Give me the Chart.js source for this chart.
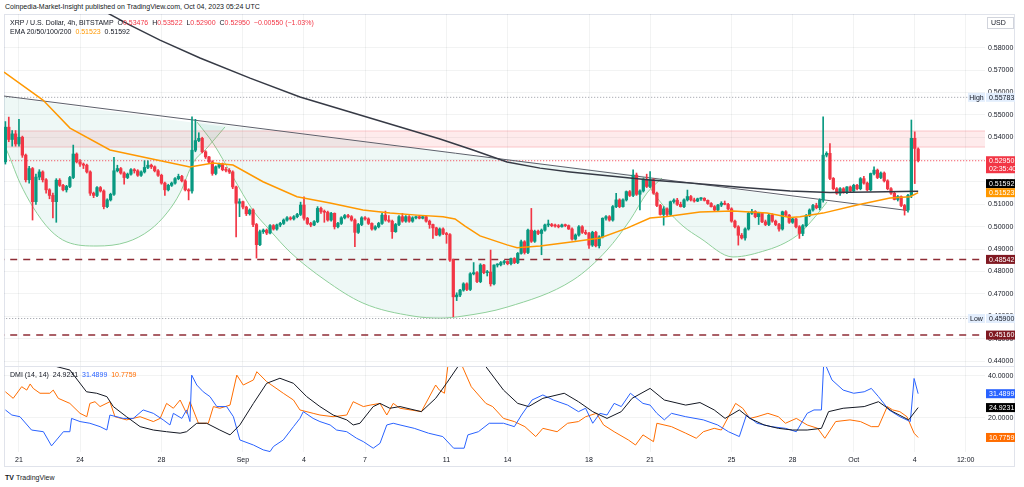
<!DOCTYPE html>
<html lang="en">
<head>
<meta charset="UTF-8">
<title>XRP / U.S. Dollar, 4h, BITSTAMP</title>
<script src="https://cdn.jsdelivr.net/npm/chart.js"></script>
<style>
  body { margin: 0; width: 1024px; height: 487px; background: #fff; position: relative; overflow: hidden;
         font-family: "Liberation Sans", Arial, sans-serif; color: #131722; }
  .frame { position: absolute; left: 4px; top: 14px; width: 1011px; height: 453px; border: 1px solid #e0e3eb; box-sizing: border-box; }
  .sep { position: absolute; left: 4px; top: 366px; width: 1011px; height: 1px; background: #e0e3eb; }
  canvas { position: absolute; left: 4px; }
  #mainChart { top: 14px; }
  #dmiChart { top: 366px; }
  .txt { position: absolute; font-size: 7px; line-height: 9px; white-space: nowrap; }
  .pub { left: 5px; top: 2px; }
  .leg1 { left: 10px; top: 18px; }
  .leg2 { left: 10px; top: 27px; }
  .dmi { left: 10px; top: 370px; }
  .logo { left: 5px; top: 473px; }
  .logo b { font-weight: 900; margin-right: 2px; }
  .red { color: #f23645; } .orange { color: #ff9800; } .blue { color: #2962ff; } .dorange { color: #ff6d00; }
</style>
</head>
<body>
<div class="frame"></div>
<canvas id="mainChart" width="1011" height="352"></canvas>
<canvas id="dmiChart" width="1011" height="101"></canvas>
<div class="sep"></div>
<div class="txt pub">Coinpedia-Market-Insight published on TradingView.com, Oct 04, 2023 05:24 UTC</div>
<div class="txt leg1" id="leg1"></div>
<div class="txt leg2" id="leg2"></div>
<div class="txt dmi" id="legDmi"></div>
<div class="txt logo"><b>TV</b>TradingView</div>
<script>
// 4h candles, index 0 = Aug 20 08:00
const opens = [
.5290,.5445,.5390,.5415,.5370,.5400,.5320,.5210,.5260,.5112,
.5222,.5245,.5210,.5165,.5140,.5112,.5208,.5185,.5165,.5180,
.5220,.5325,.5290,.5280,.5275,.5245,.5150,.5140,.5175,.5160,
.5090,.5120,.5145,.5250,.5260,.5240,.5220,.5235,.5255,.5250,
.5230,.5245,.5265,.5275,.5268,.5250,.5230,.5195,.5165,.5185,
.5195,.5215,.5225,.5205,.5165,.5160,.5342,.5385,.5395,.5335,
.5312,.5290,.5238,.5268,.5280,.5255,.5252,.5245,.5178,.5105,
.5112,.5088,.5058,.5075,.5010,.4920,.4978,.4985,.4972,.5005,
.4990,.5008,.5015,.5030,.5040,.5035,.5045,.5055,.5097,.5038,
.5015,.5008,.5023,.5082,.5068,.5065,.5030,.5060,.5000,.5015,
.5040,.5050,.5045,.5030,.4975,.5010,.5040,.5035,.5015,.4990,
.5000,.5015,.5052,.5030,.5025,.4978,.5010,.5045,.5025,.5045,
.5025,.5040,.5045,.5038,.5045,.5025,.5010,.4995,.4963,.4990,
.4970,.4965,.4851,.4687,.4695,.4717,.4745,.4720,.4790,.4795,
.4755,.4829,.4795,.4798,.4745,.4829,.4830,.4840,.4845,.4835,
.4858,.4840,.4881,.4933,.4885,.4985,.4935,.4980,.4970,.4985,
.5008,.5010,.5005,.5003,.5000,.5008,.5005,.4990,.4945,.4963,
.5000,.4975,.4970,.4918,.4975,.4915,.4955,.5038,.5045,.5030,
.5090,.5120,.5090,.5120,.5157,.5140,.5231,.5145,.5160,.5210,
.5180,.5210,.5150,.5095,.5055,.5080,.5055,.5112,.5119,.5100,
.5090,.5120,.5135,.5120,.5115,.5125,.5127,.5118,.5104,.5090,
.5075,.5097,.5105,.5100,.5080,.5025,.5000,.4962,.4950,.4990,
.5060,.5068,.5045,.5060,.5022,.5010,.5052,.5025,.5010,.4990,
.5067,.5052,.5020,.5035,.5000,.4970,.5005,.5050,.5075,.5095,
.5085,.5119,.5320,.5328,.5216,.5170,.5150,.5170,.5155,.5178,
.5160,.5185,.5170,.5215,.5195,.5165,.5238,.5253,.5220,.5240,
.5205,.5170,.5150,.5122,.5135,.5095,.5075,.5140,.5395,.53476
];
const highs = [
.5470,.5490,.5430,.5430,.5480,.5405,.5325,.5270,.5265,.5235,
.5255,.5250,.5215,.5170,.5150,.5215,.5215,.5190,.5185,.5225,
.5365,.5330,.5300,.5285,.5280,.5250,.5155,.5180,.5180,.5165,
.5125,.5150,.5310,.5275,.5265,.5245,.5240,.5260,.5260,.5255,
.5250,.5295,.5295,.5280,.5272,.5255,.5235,.5200,.5190,.5200,
.5220,.5235,.5230,.5210,.5170,.5491,.5480,.5420,.5400,.5340,
.5315,.5295,.5272,.5285,.5285,.5265,.5260,.5250,.5182,.5125,
.5115,.5092,.5080,.5080,.5015,.4985,.4990,.4990,.5010,.5010,
.5012,.5020,.5035,.5045,.5045,.5050,.5060,.5110,.5134,.5042,
.5020,.5028,.5090,.5088,.5075,.5070,.5065,.5062,.5020,.5045,
.5055,.5055,.5050,.5035,.5015,.5045,.5045,.5040,.5018,.5005,
.5020,.5060,.5070,.5050,.5030,.5015,.5050,.5060,.5050,.5050,
.5045,.5048,.5050,.5048,.5048,.5030,.5012,.4998,.4995,.4995,
.4975,.4970,.4855,.4705,.4720,.4750,.4750,.4795,.4840,.4800,
.4835,.4832,.4805,.4896,.4830,.4835,.4845,.4850,.4848,.4860,
.4862,.4885,.4941,.4938,.4990,.5082,.4985,.4985,.4990,.5012,
.5030,.5015,.5012,.5010,.5012,.5012,.5008,.4995,.4968,.5005,
.5005,.4985,.4975,.4980,.4980,.4960,.5040,.5050,.5050,.5095,
.5149,.5125,.5125,.5160,.5162,.5254,.5240,.5165,.5215,.5235,
.5246,.5215,.5155,.5100,.5090,.5085,.5115,.5125,.5127,.5110,
.5125,.5164,.5140,.5128,.5128,.5130,.5130,.5120,.5108,.5095,
.5100,.5112,.5115,.5105,.5085,.5030,.5005,.4970,.4995,.5065,
.5078,.5072,.5065,.5062,.5030,.5060,.5058,.5030,.5015,.5070,
.5072,.5055,.5040,.5038,.5005,.5010,.5055,.5080,.5100,.5105,
.5125,.5491,.5335,.5372,.5220,.5175,.5175,.5175,.5180,.5182,
.5190,.5190,.5220,.5225,.5200,.5240,.5268,.5258,.5245,.5245,
.5210,.5175,.5155,.5140,.5138,.5100,.5145,.5477,.5424,.53522
];
const lows = [
.5280,.5380,.5360,.5360,.5360,.5310,.5200,.5195,.5030,.5100,
.5210,.5200,.5150,.5125,.5040,.5020,.5180,.5160,.5155,.5175,
.5215,.5285,.5270,.5260,.5240,.5140,.5130,.5135,.5155,.5080,
.5085,.5115,.5140,.5245,.5235,.5190,.5215,.5230,.5240,.5225,
.5225,.5240,.5260,.5260,.5245,.5225,.5190,.5140,.5160,.5180,
.5190,.5210,.5200,.5160,.5120,.5150,.5335,.5380,.5330,.5305,
.5285,.5230,.5232,.5262,.5250,.5245,.5238,.5170,.4955,.5045,
.5080,.5050,.5052,.5000,.4860,.4915,.4970,.4965,.4968,.4985,
.4985,.5000,.5010,.5025,.5030,.5030,.5040,.5050,.5030,.5010,
.5000,.5005,.5018,.5060,.5020,.5025,.5025,.4990,.4995,.5010,
.5035,.5040,.5025,.4911,.4970,.5005,.5030,.5010,.4985,.4985,
.4995,.5010,.5025,.5020,.4948,.4975,.5005,.5020,.5020,.5020,
.5020,.5035,.5035,.5035,.5020,.4993,.4948,.4960,.4958,.4965,
.4926,.4845,.4598,.4670,.4688,.4712,.4715,.4715,.4785,.4750,
.4750,.4790,.4780,.4735,.4740,.4820,.4825,.4832,.4830,.4830,
.4835,.4835,.4878,.4878,.4880,.4930,.4930,.4965,.4875,.4980,
.5000,.5000,.4998,.4995,.4998,.5000,.4988,.4940,.4940,.4958,
.4970,.4965,.4903,.4912,.4910,.4905,.4950,.5030,.5025,.5025,
.5085,.5085,.5088,.5115,.5135,.5135,.5140,.5075,.5155,.5175,
.5175,.5145,.5090,.5052,.5007,.5050,.5050,.5105,.5095,.5088,
.5085,.5115,.5115,.5110,.5112,.5118,.5115,.5100,.5088,.5072,
.5070,.5090,.5098,.5075,.5020,.4995,.4918,.4945,.4940,.4985,
.5055,.5040,.5010,.5018,.5005,.5005,.5020,.5005,.4980,.4985,
.5045,.5015,.5015,.4995,.4948,.4960,.5000,.5045,.5070,.5080,
.5075,.5110,.5312,.5210,.5165,.5145,.5140,.5150,.5148,.5155,
.5155,.5165,.5165,.5190,.5160,.5160,.5232,.5215,.5215,.5200,
.5165,.5145,.5120,.5115,.5090,.5052,.5065,.5130,.5193,.52900
];
const closes = [
.5445,.5390,.5415,.5370,.5400,.5320,.5210,.5260,.5112,.5222,
.5245,.5210,.5165,.5140,.5112,.5208,.5185,.5165,.5180,.5220,
.5325,.5290,.5280,.5275,.5245,.5150,.5140,.5175,.5160,.5090,
.5120,.5145,.5250,.5260,.5240,.5220,.5235,.5255,.5250,.5230,
.5245,.5265,.5275,.5268,.5250,.5230,.5195,.5165,.5185,.5195,
.5215,.5225,.5205,.5165,.5160,.5342,.5385,.5395,.5335,.5312,
.5290,.5238,.5268,.5280,.5255,.5252,.5245,.5178,.5105,.5112,
.5088,.5058,.5075,.5010,.4920,.4978,.4985,.4972,.5005,.4990,
.5008,.5015,.5030,.5040,.5035,.5045,.5055,.5097,.5038,.5015,
.5008,.5023,.5082,.5068,.5065,.5030,.5060,.5000,.5015,.5040,
.5050,.5045,.5030,.4975,.5010,.5040,.5035,.5015,.4990,.5000,
.5015,.5052,.5030,.5025,.4978,.5010,.5045,.5025,.5045,.5025,
.5040,.5045,.5038,.5045,.5025,.5010,.4995,.4963,.4990,.4970,
.4965,.4851,.4687,.4695,.4717,.4745,.4720,.4790,.4795,.4755,
.4829,.4795,.4798,.4745,.4829,.4830,.4840,.4845,.4835,.4858,
.4840,.4881,.4933,.4885,.4985,.4935,.4980,.4970,.4985,.5008,
.5010,.5005,.5003,.5000,.5008,.5005,.4990,.4945,.4963,.5000,
.4975,.4970,.4918,.4975,.4915,.4955,.5038,.5045,.5030,.5090,
.5120,.5090,.5120,.5157,.5140,.5231,.5145,.5160,.5210,.5180,
.5210,.5150,.5095,.5055,.5080,.5055,.5112,.5119,.5100,.5090,
.5120,.5135,.5120,.5115,.5125,.5127,.5118,.5104,.5090,.5075,
.5097,.5105,.5100,.5080,.5025,.5000,.4962,.4950,.4990,.5060,
.5068,.5045,.5060,.5022,.5010,.5052,.5025,.5010,.4990,.5067,
.5052,.5020,.5035,.5000,.4970,.5005,.5050,.5075,.5095,.5085,
.5119,.5320,.5328,.5216,.5170,.5150,.5170,.5155,.5178,.5160,
.5185,.5170,.5215,.5195,.5165,.5238,.5253,.5220,.5240,.5205,
.5170,.5150,.5122,.5135,.5095,.5075,.5140,.5395,.5350,.52950
];

// [candle index, value]
const ema50Pts = [[-0.41,.5691],[11.08,.5566],[19.04,.5441],[30.83,.5343],[44.68,.5298],[54.4,.5267],[61.18,.5285],
  [67.08,.5276],[75.92,.5201],[85.94,.5134],[95.67,.5106],[105.39,.5075],[113.35,.5061],[121.31,.5052],[128.97,.5045],
  [132.51,.5035],[135.46,.5003],[139.88,.4959],[147.84,.4919],[150.79,.4906],[157.57,.4914],[167.29,.4933],[175.25,.4950],
  [183.21,.4994],[189.99,.5039],[195,.5046],[204.71,.5066],[214.44,.5070],[224.46,.5061],[231.24,.5041],[234.19,.5045],
  [240.97,.5061],[250.99,.5097],[260.71,.5128],[266.61,.5134],[269,.51523]];
const ema200Pts = [[27.88,.5973],[36.72,.5901],[45.56,.5834],[57.35,.5754],[72.09,.5664],[86.82,.5580],[101.56,.5513],
  [116.3,.5446],[128.09,.5392],[137.81,.5343],[147.84,.5289],[157.57,.5262],[166.41,.5245],[175.25,.5231],[189.99,.5209],
  [201.78,.5195],[216.51,.5177],[231.24,.5160],[243.03,.5153],[254.82,.5155],[269,.51592]];
const trendPts = [[-0.41,.5584],[265.72,.5073]];
const cupSmall = [[-10.73,.5602],[-5.13,.5455],[-0.12,.5357],[4.3,.5196],[8.13,.5088],[13.14,.4986],[18.15,.4932],
  [27,.4914],[35.84,.4932],[42.62,.4986],[47.63,.5062],[51.46,.5151],[55.29,.5285],[59.42,.5352],[64.72,.5446]];
const cupBig = [[56.47,.5468],[61.18,.5374],[67.08,.5222],[72.97,.5073],[77.98,.4984],[83.88,.4887],[94.2,.4762],
  [105.39,.4659],[120.13,.4601],[128.09,.4592],[134.87,.4601],[147.84,.4641],[167.29,.4762],[177.31,.4896],
  [184.09,.5030],[189.1,.5151],[193.52,.5218]];
const cupRight = [[187.92,.5222],[191.45,.5142],[195,.5075],[199.7,.5003],[204.71,.4950],[214.44,.4865],
  [224.46,.4896],[229.77,.4928],[234.19,.4972],[238.61,.5044],[242.15,.5111]];
const zoneBand = [.5356, .5428];
const supportLevels = [.48542, .45160];
const hiLoValues = [.55783, .45900];
const hiLoNames = ['High', 'Low'];
const countdown = '02:35:40';

const adxPts = [[0,55],[10,50],[15.1,44.3],[19,42.7],[23.9,32.4],[26.9,31.7],[29.9,30.1],[31.8,25.4],[35.7,20.6],
  [39.7,15.9],[43.6,14.3],[47.5,13.5],[51.5,12.8],[53.4,13.5],[56.4,17.5],[59.3,17.5],[63.2,14.3],[66.2,12],[69.1,16.7],
  [73.1,26.9],[77,36.4],[80.9,38.8],[84.9,36.4],[88.8,30.1],[92.7,25.4],[96.6,21.4],[100.6,19.1],[102.5,16.7],
  [104.5,17.5],[108.4,25.4],[110.4,26.9],[113.3,24.6],[116.3,25.4],[122.6,23],[126.8,29.3],[130,36.4],[133.7,45.1],
  [137.5,48],[141.6,44.3],[146.8,33.2],[151,26.9],[154.2,25.4],[158.4,29.3],[164.7,31.7],[168.9,27.7],[173.1,23],
  [177.3,19.8],[181.5,23],[184.7,29.3],[190,34],[194.2,28.5],[200.5,26.1],[204.7,27.3],[208.9,23.8],[212.1,19.8],
  [216.3,23.8],[219.4,19.8],[223.6,16.7],[227.8,15.1],[232,14.3],[236.3,14.3],[240.5,15.1],[242.6,23],[246.9,24.6],
  [253.1,25.4],[257.3,27.7],[261.5,23],[266.2,19.1],[269,24.9231]];
const plusDiPts = [[0,23.8],[1.9,21.4],[4.3,20.6],[7.7,14.3],[11.2,13.5],[13.6,6.8],[17.1,13.5],[19,13.5],[19.5,19.8],
  [22,18.3],[24.9,17.5],[27.9,15.9],[29.9,14.3],[30.8,21.4],[34.7,19.8],[37.7,19.8],[40.6,23.8],[43.6,22.2],[46.5,19.1],
  [48.5,16.7],[49.5,22.2],[52,19.8],[53.4,23.8],[54.4,18.3],[54.9,40.3],[56.4,35.6],[58.3,32.4],[60.3,30.1],[62.3,25.4],
  [65.2,25.4],[67.2,20.6],[69.1,9.6],[73.1,7.2],[76,4.9],[78,4.1],[79,6.5],[81.9,9.6],[84.9,15.9],[86.8,19.8],[87.8,23],
  [90.7,19.8],[92.7,18.3],[95.7,16.7],[97.6,14.3],[100.6,13.5],[103.5,10.4],[105.5,8.8],[108.4,5.7],[110.4,8],
  [112.4,16.7],[114.3,17.5],[116.3,16.7],[120.5,15.1],[124.7,12.8],[128.9,11.2],[132.1,5.7],[135.2,5.7],[136.3,12],
  [139.4,13.5],[142.6,17.5],[146.8,17.5],[150,15.9],[152.1,21.4],[155.2,28.5],[158.4,30.9],[161.5,28.5],[165.7,26.1],
  [168.9,23],[171,24.6],[173.1,17.5],[175.2,22.2],[177.3,21.4],[179.4,26.9],[181.5,25.4],[184.2,31.7],[187.9,26.9],
  [190,26.1],[192,22.2],[194.2,19.1],[196.3,22.2],[200.5,20.6],[205.7,19.1],[209.9,16.7],[213.1,13.5],[216.3,11.2],
  [218.4,21.4],[221.5,17.5],[225.7,15.9],[229.9,15.1],[233.1,13.5],[236.3,22.2],[238.3,23.8],[240.5,23.8],[241.2,47],
  [243.6,38],[246.9,33.2],[250,31.7],[253.1,32.4],[255.2,34],[257.3,30.1],[260.4,23.8],[263.6,20.6],[266.7,18.3],
  [267.8,38.7],[269,31.4899]];
const minusDiPts = [[0,32.4],[2.3,29.3],[4.8,34.8],[6.3,33.2],[7.3,36.1],[8.2,34],[10.2,31.7],[13.1,31.7],[14.1,33.2],
  [15.6,29.3],[19,26.9],[22,22.2],[24,20.6],[24.9,26.9],[26.4,27.7],[27.9,25.4],[30.8,27.7],[32.3,20.6],[35.7,19.1],
  [39.7,20.6],[43.6,18.3],[45.6,19.8],[47.5,26.9],[49.5,24.6],[51.5,28.5],[53.4,22.2],[54.4,27.7],[56.9,17.5],
  [59.8,17.5],[61.3,25.4],[63.2,24.6],[66.2,26.1],[68.2,40.3],[70.1,35.6],[73.1,38],[74.1,41.9],[77,37.2],[81.9,31.7],
  [84.9,28.5],[86.8,23.8],[90.7,22.2],[92.7,21.4],[96.6,20.6],[100.6,21.4],[102.5,27.7],[105.5,25.4],[107.5,26.1],
  [110.4,26.9],[112.4,21.4],[114.3,26.9],[116.3,24.6],[122.6,23],[126.8,35.6],[127.9,33.2],[129.4,31.7],[130.5,46],
  [134.7,44.3],[137.3,34.8],[141.6,26.9],[143.6,25.4],[146.8,19.8],[150,18.3],[153.1,15.9],[156.3,11.2],[158.4,15.1],
  [162.6,13.5],[165.7,17.5],[168.9,18.3],[171,20.6],[174.2,22.2],[176.3,16.7],[179.4,13.5],[183.6,9.6],[185.7,7.2],
  [187.9,12],[191,8.8],[192,17.5],[196.3,15.9],[200.5,12.8],[203.6,10.4],[205.7,13.5],[208.9,15.1],[211,14.3],
  [213.1,20.6],[215.2,26.9],[217.3,24.6],[219.4,19.8],[221.5,20.6],[224.7,22.2],[227.8,20.6],[229.9,17.5],[233.1,19.8],
  [236.3,16.7],[239.4,15.1],[241.5,10.4],[244.7,18.3],[248.9,19.1],[252,18.3],[255.2,15.9],[257.3,15.9],[259.9,25.4],
  [261.5,23.8],[263.6,23],[265.7,20.6],[267.8,12.8],[269,10.7759]];

const timeTicks = [4, 22, 46, 70, 88, 106, 130, 148, 172, 190, 214, 232, 250, 268, 283];
const timeLabels = ['21', '24', '28', 'Sep', '4', '7', '11', '14', '18', '21', '25', '28', 'Oct', '4', '12:00'];
const priceTicks = [.44, .45, .46, .47, .48, .49, .50, .51, .52, .53, .54, .55, .56, .57, .58];
const dmiTicks = [20, 40];

const UP = '#089981', DOWN = '#f23645';
const GRID = 'rgba(42,46,57,0.06)';
const FONT = '"Liberation Sans", Arial, sans-serif';
Chart.defaults.font.family = FONT;
Chart.defaults.font.size = 7;
Chart.defaults.color = '#131722';

const xMin = -0.41, xMax = 288.7;
const n = closes.length;
const last = a => a[a.length - 1][1];

// legends
const chg = closes[n - 1] - closes[n - 2];
const pct = chg / closes[n - 2] * 100;
const f5 = v => v.toFixed(5);
const neg = s => s.replace('-', '\u2212');
document.getElementById('leg1').innerHTML =
  'XRP / U.S. Dollar, 4h, BITSTAMP&nbsp;&nbsp;O<span class="red">' + f5(opens[n - 1]) + '</span>&nbsp;&nbsp;H<span class="red">' +
  f5(highs[n - 1]) + '</span>&nbsp;&nbsp;L<span class="red">' + f5(lows[n - 1]) + '</span>&nbsp;&nbsp;C<span class="red">' +
  f5(closes[n - 1]) + '</span>&nbsp;&nbsp;<span class="red">' + neg(f5(chg)) + ' (' + neg(pct.toFixed(2)) + '%)</span>';
document.getElementById('leg2').innerHTML =
  'EMA 20/50/100/200&nbsp;&nbsp;<span class="orange">' + f5(last(ema50Pts)) + '</span>&nbsp;&nbsp;' + f5(last(ema200Pts));
document.getElementById('legDmi').innerHTML =
  'DMI (14, 14)&nbsp;&nbsp;' + last(adxPts).toFixed(4) + '&nbsp;&nbsp;<span class="blue">' + last(plusDiPts).toFixed(4) +
  '</span>&nbsp;&nbsp;<span class="dorange">' + last(minusDiPts).toFixed(4) + '</span>';

function pts(a) { return a.map(p => ({ x: p[0], y: p[1] })); }
function hline(v) { return [{ x: xMin - 2, y: v }, { x: xMax + 2, y: v }]; }
function candleColor(c) { const i = c.dataIndex; return closes[i] >= opens[i] ? UP : DOWN; }
function line(data, color, width, extra) {
  return Object.assign({ type: 'line', data: data, borderColor: color, borderWidth: width,
    pointRadius: 0, fill: false, tension: 0 }, extra || {});
}

function drawTags(chart, items) {
  const ctx = chart.ctx, ys = chart.scales.y;
  const left = ys.left + 1, w = ys.right - ys.left - 1;
  items.forEach(t => { t.top = ys.getPixelForValue(t.v) - 4.5; t.h = t.rows.length * 8 + 1; });
  items.sort((a, b) => a.top - b.top);
  for (let i = items.length - 2; i >= 0; i--) {
    const over = items[i].top + items[i].h - items[i + 1].top;
    if (over > 0) items[i].top -= over;
  }
  ctx.save();
  ctx.font = '7px ' + FONT;
  ctx.textBaseline = 'middle';
  items.forEach(t => {
    ctx.fillStyle = t.bg;
    ctx.fillRect(left, t.top, w, t.h);
    if (t.side) {
      ctx.fillRect(ys.left - 17, t.top, 17, t.h);
      ctx.fillStyle = t.fg;
      ctx.textAlign = 'center';
      ctx.fillText(t.side, ys.left - 8.5, t.top + 4.8);
    }
    ctx.fillStyle = t.fg;
    ctx.textAlign = 'left';
    t.rows.forEach((r, k) => ctx.fillText(r, left + 3, t.top + 4.8 + k * 8));
  });
  ctx.restore();
}

const mainTags = {
  id: 'mainTags',
  afterDraw(chart) {
    const items = [
      { v: closes[n - 1], bg: DOWN, fg: '#fff', rows: [f5(closes[n - 1]), countdown] },
      { v: last(ema200Pts), bg: '#000', fg: '#fff', rows: [f5(last(ema200Pts))] },
      { v: last(ema50Pts), bg: '#ff9800', fg: '#fff', rows: [f5(last(ema50Pts))] }
    ];
    supportLevels.forEach(v => items.push({ v: v, bg: '#801922', fg: '#fff', rows: [f5(v)] }));
    hiLoValues.forEach((v, i) => items.push({ v: v, bg: '#e3eefd', fg: '#131722', rows: [f5(v)], side: hiLoNames[i] }));
    drawTags(chart, items);
    const ctx = chart.ctx, ys = chart.scales.y;
    ctx.save();
    ctx.strokeStyle = '#d1d4dc';
    ctx.strokeRect(ys.left + 2.5, 3.5, 26, 11);
    ctx.fillStyle = '#131722';
    ctx.font = '7px ' + FONT;
    ctx.textBaseline = 'middle';
    ctx.fillText('USD', ys.left + 6, 9.5);
    ctx.restore();
  }
};

const dmiTags = {
  id: 'dmiTags',
  afterDraw(chart) {
    drawTags(chart, [
      { v: last(plusDiPts), bg: '#2962ff', fg: '#fff', rows: [last(plusDiPts).toFixed(4)] },
      { v: last(adxPts), bg: '#000', fg: '#fff', rows: [last(adxPts).toFixed(4)] },
      { v: last(minusDiPts), bg: '#ff6d00', fg: '#fff', rows: [last(minusDiPts).toFixed(4)] }
    ]);
  }
};

const cupStyle = { borderColor: '#8fcf9a', borderWidth: 1, backgroundColor: 'rgba(8,153,129,0.07)',
  fill: 'shape', cubicInterpolationMode: 'monotone' };

new Chart(document.getElementById('mainChart'), {
  type: 'bar',
  data: {
    datasets: [
      line(pts(ema50Pts), '#ff9800', 1.5, { order: 2 }),
      line(pts(ema200Pts), '#363a45', 1.5, { order: 3 }),
      { type: 'bar', data: opens.map((o, i) => ({ x: i, y: [o, closes[i]] })), backgroundColor: candleColor,
        barThickness: 2.6, minBarLength: 1, grouped: false, order: 4 },
      { type: 'bar', data: lows.map((l, i) => ({ x: i, y: [l, highs[i]] })), backgroundColor: candleColor,
        barThickness: 1, grouped: false, order: 5 },
      line(pts(trendPts), '#5d606b', 1, { order: 11 }),
      line(hline(supportLevels[0]), '#8e2d36', 1.5, { borderDash: [7, 6], order: 12 }),
      line(hline(supportLevels[1]), '#8e2d36', 1.5, { borderDash: [7, 6], order: 12 }),
      line(hline(closes[n - 1]), DOWN, 1, { borderDash: [1, 2], order: 12 }),
      line(hline(hiLoValues[0]), '#9598a1', 1, { borderDash: [1, 2], order: 12 }),
      line(hline(hiLoValues[1]), '#9598a1', 1, { borderDash: [1, 2], order: 12 }),
      line(hline(zoneBand[1]), 'rgba(242,54,69,0.25)', 1, { fill: '+1', backgroundColor: 'rgba(242,54,69,0.1)', order: 15 }),
      line(hline(zoneBand[0]), 'rgba(242,54,69,0.25)', 1, { order: 15 }),
      line(pts(cupSmall), '', 1, Object.assign({ order: 20 }, cupStyle)),
      line(pts(cupBig), '', 1, Object.assign({ order: 21 }, cupStyle)),
      line(pts(cupRight), '', 1, Object.assign({ order: 22 }, cupStyle))
    ]
  },
  options: {
    responsive: false, animation: false, events: [],
    layout: { padding: 0 },
    plugins: { legend: { display: false }, tooltip: { enabled: false } },
    scales: {
      x: { type: 'linear', min: xMin, max: xMax, offset: false,
        grid: { color: GRID, drawTicks: false, offset: false }, border: { display: false },
        ticks: { display: false },
        afterBuildTicks: s => { s.ticks = timeTicks.map(v => ({ value: v })); },
        afterFit: s => { s.height = 0; s.paddingLeft = 0; s.paddingRight = 0; } },
      y: { position: 'right', min: 0.43779, max: 0.59506,
        grid: { color: GRID, drawTicks: false }, border: { display: false },
        ticks: { padding: 3, callback: v => v.toFixed(5) },
        afterBuildTicks: s => { s.ticks = priceTicks.map(v => ({ value: v })); },
        afterFit: s => { s.width = 30; s.paddingTop = 0; s.paddingBottom = 0; } }
    }
  },
  plugins: [mainTags]
});

new Chart(document.getElementById('dmiChart'), {
  type: 'line',
  data: {
    datasets: [
      line(pts(adxPts), '#131722', 1),
      line(pts(plusDiPts), '#2962ff', 1),
      line(pts(minusDiPts), '#ff6d00', 1)
    ]
  },
  options: {
    responsive: false, animation: false, events: [],
    layout: { padding: 0 },
    plugins: { legend: { display: false }, tooltip: { enabled: false } },
    scales: {
      x: { type: 'linear', min: xMin, max: xMax,
        grid: { color: GRID, drawTicks: false }, border: { display: false },
        ticks: { autoSkip: false, maxRotation: 0, padding: 4, callback: (v, i) => timeLabels[i] },
        afterBuildTicks: s => { s.ticks = timeTicks.map(v => ({ value: v })); },
        afterFit: s => { s.height = 15; s.paddingLeft = 0; s.paddingRight = 0; } },
      y: { position: 'right', min: 3.9, max: 44.6,
        grid: { color: GRID, drawTicks: false }, border: { display: false },
        ticks: { padding: 3, callback: v => v.toFixed(4) },
        afterBuildTicks: s => { s.ticks = dmiTicks.map(v => ({ value: v })); },
        afterFit: s => { s.width = 30; s.paddingTop = 0; s.paddingBottom = 0; } }
    }
  },
  plugins: [dmiTags]
});
</script>
</body>
</html>
